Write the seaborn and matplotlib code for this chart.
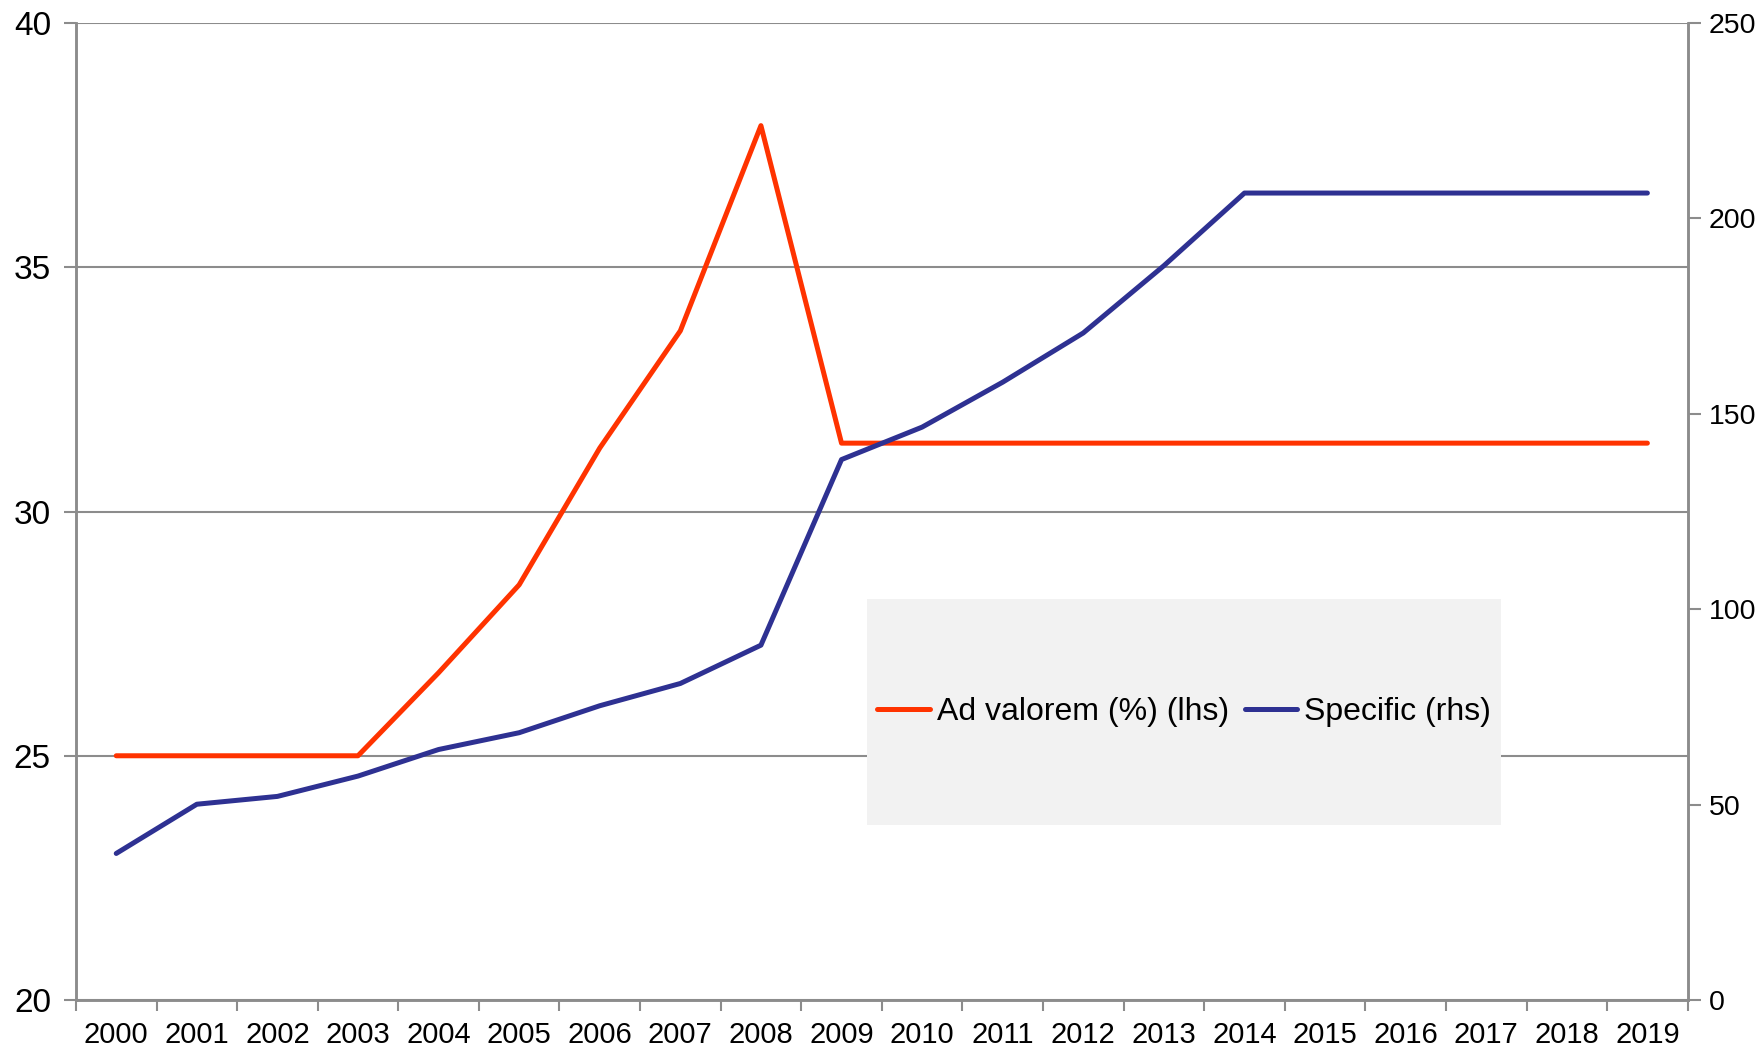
import pandas as pd
import matplotlib.pyplot as plt
import seaborn as sns
from matplotlib.patches import Rectangle

# Data
years = list(range(2000, 2020))
ad_valorem = [25.0, 25.0, 25.0, 25.0, 26.7, 28.5, 31.3, 33.7, 37.9, 31.4,
              31.4, 31.4, 31.4, 31.4, 31.4, 31.4, 31.4, 31.4, 31.4, 31.4]
specific = [37.5, 50.1, 52.1, 57.3, 64.1, 68.4, 75.3, 81.0, 90.8, 138.3,
            146.6, 158.1, 170.7, 187.9, 206.5, 206.5, 206.5, 206.5, 206.5, 206.5]
left_ticks = [20, 25, 30, 35, 40]
right_ticks = [0, 50, 100, 150, 200, 250]

df = pd.DataFrame({'Year': years, 'Ad valorem': ad_valorem, 'Specific': specific})

sns.set_style("white")
plt.rcParams['font.family'] = ['Liberation Sans', 'DejaVu Sans']
plt.rcParams['text.color'] = 'black'

red = "#FF3300"
blue = "#2E3192"
grey = "#8C8C8C"

fig = plt.figure(figsize=(17.58, 10.48), dpi=100)
ax = fig.add_axes([0.0432, 0.0458, 0.9168, 0.9322])
ax2 = ax.twinx()

sns.lineplot(data=df, x='Year', y='Ad valorem', ax=ax, color=red, lw=3.6,
             solid_capstyle='round', label='Ad valorem (%) (lhs)', legend=False)
sns.lineplot(data=df, x='Year', y='Specific', ax=ax2, color=blue, lw=3.6,
             solid_capstyle='round', label='Specific (rhs)', legend=False)

ax.set_xlim(years[0] - 0.5, years[-1] + 0.5)
ax.set_ylim(left_ticks[0], left_ticks[-1])
ax2.set_ylim(right_ticks[0], right_ticks[-1])
ax.set_yticks(left_ticks)
ax2.set_yticks(right_ticks)

# category style x axis: labels at centres, tick marks between
ax.set_xticks(years)
ax.set_xticklabels([str(y) for y in years], fontsize=21)
ax.set_xticks([y - 0.5 for y in years] + [years[-1] + 0.5], minor=True)
ax.tick_params(axis='x', which='major', length=0, pad=15, labelcolor='black')
ax.tick_params(axis='x', which='minor', length=8, width=1.5, color=grey, bottom=True)

ax.tick_params(axis='y', labelsize=24, length=9, width=1.5, color=grey, left=True,
               pad=9, labelcolor='black')
ax2.tick_params(axis='y', labelsize=20.5, length=9, width=1.5, color=grey, right=True,
                pad=6, labelcolor='black')

ax.set_xlabel('')
ax.set_ylabel('')
ax2.set_ylabel('')

ax.yaxis.grid(True, color=grey, lw=1.5)
ax.xaxis.grid(False)
for a in (ax, ax2):
    for side in ('left', 'right', 'bottom'):
        a.spines[side].set_color(grey)
        a.spines[side].set_linewidth(1.8)
    a.spines['top'].set_visible(False)

# legend panel
ax2.add_patch(Rectangle((0.491, 0.179), 0.393, 0.231, transform=ax2.transAxes,
                        facecolor='#F2F2F2', edgecolor='none', zorder=0))
h1, l1 = ax.get_legend_handles_labels()
h2, l2 = ax2.get_legend_handles_labels()
leg = ax2.legend(h1 + h2, l1 + l2, loc='center', bbox_to_anchor=(0.6875, 0.2945),
                 ncol=2, frameon=False, fontsize=23, handlelength=1.65,
                 handletextpad=0.2, columnspacing=0.5)
for t in leg.get_texts():
    t.set_color('black')

fig.savefig('out.png', dpi=100)
